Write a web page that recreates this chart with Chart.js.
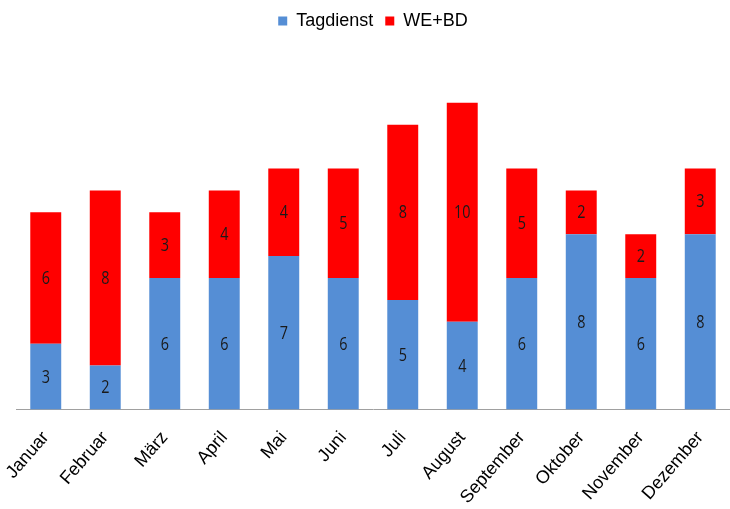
<!DOCTYPE html>
<html>
<head>
<meta charset="utf-8">
<script src="https://cdn.jsdelivr.net/npm/chart.js@4/dist/chart.umd.min.js"></script>
<style>
  html, body { margin: 0; padding: 0; background: #fff; }
  #wrap { width: 730px; height: 509px; }
</style>
</head>
<body>
<div id="wrap"><canvas id="c" width="730" height="509"></canvas></div>
<script>
// Dienste pro Monat
const months = ['Januar', 'Februar', 'März', 'April', 'Mai', 'Juni', 'Juli', 'August', 'September', 'Oktober', 'November', 'Dezember'];
const tagdienst = [3, 2, 6, 6, 7, 6, 5, 4, 6, 8, 6, 8];
const weBd = [6, 8, 3, 4, 4, 5, 8, 10, 5, 2, 2, 3];

// Werte mittig in jedes Balkensegment schreiben
const segmentLabels = {
  id: 'segmentLabels',
  afterDatasetsDraw(chart) {
    const ctx = chart.ctx;
    ctx.save();
    ctx.fillStyle = '#1a1a1a';
    ctx.textAlign = 'center';
    ctx.textBaseline = 'middle';
    chart.data.datasets.forEach((ds, di) => {
      const meta = chart.getDatasetMeta(di);
      meta.data.forEach((bar, i) => {
        const top = Math.min(bar.y, bar.base);
        const bottom = Math.max(bar.y, bar.base);
        ctx.save();
        ctx.translate(bar.x, (top + bottom) / 2 + 1);
        ctx.scale(0.9, 1.1);
        ctx.font = '16px "Open Sans", sans-serif';
        ctx.fillText(String(ds.data[i]), 0, 0);
        ctx.restore();
      });
    });
    ctx.restore();
  }
};

// Abstand zwischen Legende und Diagrammfläche vergrößern
const legendGap = {
  id: 'legendGap',
  beforeInit(chart) {
    const origFit = chart.legend.fit;
    chart.legend.fit = function () {
      origFit.call(this);
      this.height += 19;
    };
  }
};

new Chart(document.getElementById('c'), {
  type: 'bar',
  data: {
    labels: months,
    datasets: [
      { label: 'Tagdienst', data: tagdienst, backgroundColor: '#558ed5', borderWidth: 0 },
      { label: 'WE+BD', data: weBd, backgroundColor: '#ff0000', borderWidth: 0 }
    ]
  },
  options: {
    responsive: false,
    animation: false,
    layout: { padding: { left: 16, right: 0, top: 0, bottom: -17 } },
    datasets: { bar: { barPercentage: 0.52, categoryPercentage: 1 } },
    plugins: {
      legend: {
        position: 'top',
        labels: {
          boxWidth: 9, boxHeight: 9,
          font: { family: '"Liberation Sans", Arial, sans-serif', size: 18 },
          color: '#000',
          padding: 12
        }
      },
      tooltip: { enabled: false }
    },
    scales: {
      x: {
        stacked: true,
        grid: { display: false, drawTicks: false },
        border: { color: '#a0a0a0', width: 1 },
        afterFit(scale) { scale.paddingLeft = 0; scale.paddingRight = 0; },
        ticks: {
          maxRotation: 49, minRotation: 49,
          color: '#000',
          padding: 18,
          font: { family: '"Liberation Sans", Arial, sans-serif', size: 18 }
        }
      },
      y: {
        stacked: true,
        display: false,
        min: 0, max: 16
      }
    }
  },
  plugins: [segmentLabels, legendGap]
});
</script>
</body>
</html>
